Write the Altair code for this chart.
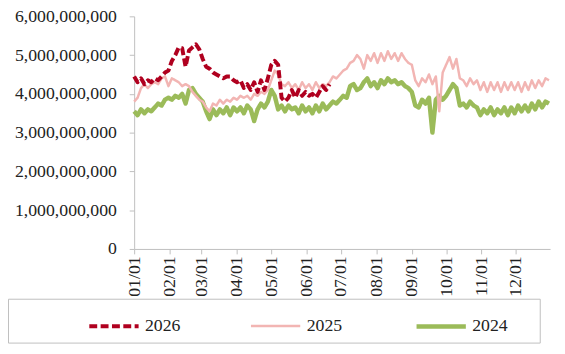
import altair as alt
import pandas as pd

series_names = ["2026", "2025", "2024"]
series_colors = ["#B0001F", "#F2B5B3", "#9BBB59"]

# day offsets from Jan 1 (sampled every 3 days)
days_full = list(range(0, 364, 3))
days_2026 = list(range(0, 172, 3))

# values in billions
values_2026 = [
    4.45, 4.30, 4.40, 4.25, 4.35, 4.30, 4.40, 4.35, 4.45, 4.55,
    4.60, 4.85, 5.00, 5.20, 5.18, 4.70, 5.12, 5.20, 5.28, 5.15,
    4.90, 4.70, 4.65, 4.55, 4.50, 4.45, 4.40, 4.45, 4.45, 4.35,
    4.30, 4.35, 4.15, 4.25, 4.10, 4.30, 4.05, 4.35, 4.10, 4.40,
    4.75, 4.85, 4.75, 3.90, 3.80, 3.90, 4.10, 3.90, 4.10, 3.95,
    4.05, 3.95, 4.00, 3.90, 4.05, 4.20, 4.10, 4.25,
]
values_2025 = [
    3.80, 3.90, 4.15, 4.25, 4.15, 4.25, 4.30, 4.25, 4.40, 4.45,
    4.20, 4.40, 4.35, 4.30, 4.20, 4.25, 4.20, 4.05, 3.95, 3.85,
    3.80, 3.65, 3.55, 3.75, 3.70, 3.85, 3.75, 3.85, 3.80, 3.90,
    3.85, 3.95, 3.90, 3.95, 3.85, 4.00, 3.95, 4.05, 4.00, 4.10,
    4.35, 4.60, 4.50, 4.25, 4.20, 4.30, 4.15, 4.25, 4.10, 4.30,
    4.15, 4.25, 4.10, 4.30, 4.15, 4.25, 4.20, 4.30, 4.45, 4.40,
    4.50, 4.60, 4.65, 4.80, 4.85, 5.00, 4.90, 4.65, 5.00, 4.85,
    5.05, 4.80, 5.05, 4.85, 5.10, 4.90, 5.05, 4.85, 5.05, 4.90,
    4.80, 4.75, 4.35, 4.20, 4.40, 4.30, 4.50, 4.25, 4.45, 3.55,
    4.55, 4.75, 4.95, 4.65, 4.90, 4.40, 4.35, 4.20, 4.40, 4.25,
    4.35, 4.10, 4.30, 4.05, 4.30, 4.10, 4.30, 4.05, 4.30, 4.10,
    4.30, 4.10, 4.30, 4.05, 4.30, 4.10, 4.35, 4.15, 4.35, 4.20,
    4.40, 4.35,
]
values_2024 = [
    3.55, 3.45, 3.60, 3.50, 3.60, 3.55, 3.65, 3.75, 3.70, 3.85,
    3.90, 3.85, 3.95, 3.90, 4.00, 3.75, 4.10, 4.15, 4.00, 3.90,
    3.80, 3.55, 3.35, 3.60, 3.45, 3.60, 3.50, 3.65, 3.45, 3.65,
    3.55, 3.65, 3.50, 3.70, 3.60, 3.30, 3.60, 3.75, 3.65, 3.80,
    4.10, 3.95, 3.60, 3.70, 3.55, 3.70, 3.60, 3.65, 3.50, 3.70,
    3.55, 3.65, 3.50, 3.70, 3.55, 3.75, 3.60, 3.70, 3.80, 3.75,
    3.85, 3.95, 3.90, 4.20, 4.25, 4.10, 4.15, 4.30, 4.40, 4.20,
    4.30, 4.15, 4.35, 4.25, 4.40, 4.30, 4.35, 4.25, 4.30, 4.20,
    4.15, 4.05, 3.70, 3.65, 3.85, 3.75, 3.90, 3.00, 3.85, 3.95,
    3.85, 3.95, 4.10, 4.25, 4.15, 3.70, 3.75, 3.65, 3.80, 3.70,
    3.65, 3.45, 3.60, 3.50, 3.65, 3.45, 3.60, 3.50, 3.65, 3.45,
    3.65, 3.50, 3.70, 3.55, 3.70, 3.55, 3.75, 3.60, 3.80, 3.65,
    3.80, 3.75,
]

month_ticks = [0, 31, 59, 90, 120, 151, 181, 212, 243, 273, 304, 334]
month_labels = ["01/01", "02/01", "03/01", "04/01", "05/01", "06/01",
                "07/01", "08/01", "09/01", "10/01", "11/01", "12/01"]
y_ticks = [0, 1e9, 2e9, 3e9, 4e9, 5e9, 6e9]

rows = []
for name, days, vals in [("2024", days_full, values_2024),
                         ("2025", days_full, values_2025),
                         ("2026", days_2026, values_2026)]:
    for d, v in zip(days, vals):
        rows.append({"series": name, "day": d, "value": v * 1e9})
df = pd.DataFrame(rows)

FONT = "Liberation Serif, Times New Roman, serif"
label_expr = "[" + ",".join("'%s'" % s for s in month_labels) + "][indexof([" + \
    ",".join(str(t) for t in month_ticks) + "], datum.value)]"

x_enc = alt.X("day:Q", scale=alt.Scale(domain=[0, 364], nice=False, zero=False),
              axis=alt.Axis(values=month_ticks, labelExpr=label_expr, labelAngle=270,
                            title=None, grid=False, domainColor="#BFBFBF", tickColor="#BFBFBF",
                            tickSize=5, labelPadding=2, labelFont=FONT, labelFontSize=18,
                            labelColor="#222222", labelOverlap=False))
y_enc = alt.Y("value:Q", scale=alt.Scale(domain=[0, 6e9], nice=False),
              axis=alt.Axis(values=y_ticks, format=",d", title=None, grid=False,
                            domainColor="#BFBFBF", tickColor="#BFBFBF", tickSize=5,
                            labelPadding=13, labelFont=FONT, labelFontSize=18,
                            labelColor="#222222"))

legend = alt.Legend(title=None, orient="none", legendX=-48, legendY=287,
                    direction="horizontal", columns=3, columnPadding=66,
                    symbolType="stroke", symbolSize=2500, symbolStrokeWidth=4,
                    labelOffset=4, labelFont=FONT, labelFontSize=18,
                    labelColor="#222222", padding=0)
color_enc = alt.Color("series:N", scale=alt.Scale(domain=series_names, range=series_colors),
                      legend=legend, sort=series_names)
dash_enc = alt.StrokeDash("series:N",
                          scale=alt.Scale(domain=series_names, range=[[8, 3.5], [1, 0], [1, 0]]),
                          legend=legend, sort=series_names)
width_enc = alt.StrokeWidth("series:N",
                            scale=alt.Scale(type="ordinal", domain=series_names, range=[4, 2.5, 4.5]),
                            legend=legend, sort=series_names)

layers = []
for name in ["2024", "2025", "2026"]:
    layers.append(
        alt.Chart(df).transform_filter(alt.datum.series == name)
        .mark_line(strokeJoin="round")
        .encode(x=x_enc, y=y_enc, color=color_enc, strokeDash=dash_enc, strokeWidth=width_enc)
    )

box = alt.Chart(pd.DataFrame({"box": [0]})).mark_rect(
    fill=None, stroke="#BFBFBF", strokeWidth=1, clip=False
).encode(x=alt.value(-127.5), x2=alt.value(412), y=alt.value(287), y2=alt.value(331.5))

chart = alt.layer(*layers, box).properties(
    width=422, height=236,
    autosize=alt.AutoSizeParams(type="none"),
    padding={"left": 128, "top": 6, "right": 7, "bottom": 96},
    background="white",
).configure_view(strokeWidth=0)

chart.save("out.html", embed_options={"renderer": "svg", "actions": False})
